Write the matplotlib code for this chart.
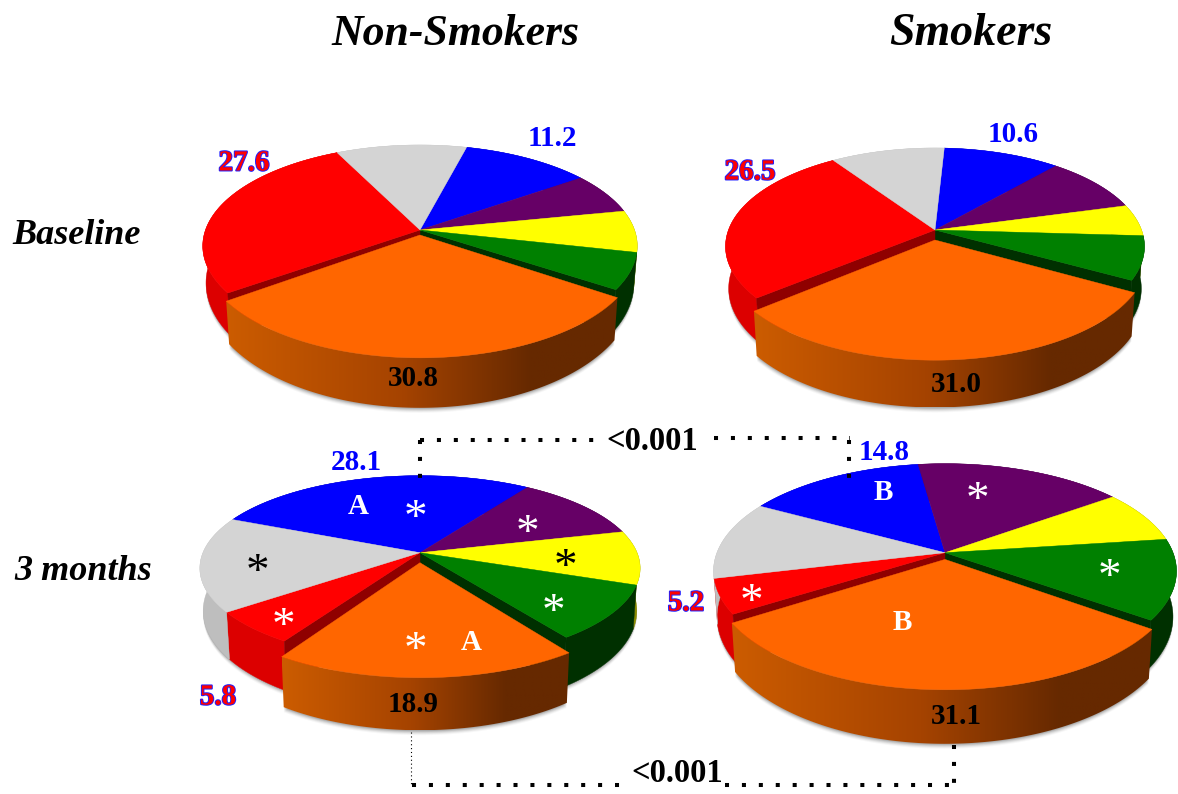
import numpy as np
import matplotlib
matplotlib.use('Agg')
import matplotlib.pyplot as plt
from matplotlib.patches import Polygon
import matplotlib.patheffects as pe
from matplotlib.colors import LinearSegmentedColormap

# Share of each group, one entry per panel:
# non-smokers baseline, smokers baseline, non-smokers 3 months, smokers 3 months
blue = [11.2, 10.6, 28.1, 14.8]
purple = [6.6, 9.3, 11.6, 17.2]
yellow = [6.7, 5.2, 9.4, 7.9]
green = [5.8, 7.1, 9.6, 12.0]
orange = [30.8, 31.0, 18.9, 31.1]
red = [27.6, 26.5, 5.8, 5.2]
grey = [11.3, 10.3, 16.6, 11.8]

col_titles = ['Non-Smokers', 'Smokers']
row_titles = ['Baseline', '3 months']
p_values = ['<0.001', '<0.001']

TOP = {'blue': '#0000ff', 'purple': '#660066', 'yellow': '#ffff00', 'green': '#008000',
       'orange': '#ff6600', 'red': '#ff0000', 'grey': '#d4d4d4'}
WALL = {'blue': '#0000a0', 'purple': '#400040', 'yellow': '#8a8a00', 'green': '#003000',
        'red': '#dc0000', 'grey': '#bebebe'}
FACE = {'green': '#003000', 'red': '#8f0000'}

SERIF = 'Liberation Serif'
ORANGE_WALL = LinearSegmentedColormap.from_list(
    'wall', [(0, '#cc5c00'), (0.45, '#a54300'), (0.78, '#662900'), (1, '#662900')])

# start = angle where the blue slice begins, the rest of the fields set the perspective disc
panels = [
    dict(cx=420, cy=230, r=214.5, back=85, front=117, d0=35, ds=12, start=75.5, da=5, gx=1.008, gy=1.05),
    dict(cx=935, cy=230, r=206.5, back=82, front=115, d0=41, ds=5, start=87.0, da=10, gx=1.015, gy=1.045),
    dict(cx=420, cy=552.7, r=217, back=77, front=108, d0=41, ds=9, start=156.9, da=10, gx=1.02, gy=1.065),
    dict(cx=945, cy=552.7, r=228, back=89, front=126, d0=44, ds=8, start=151.2, da=6.7, gx=1.005, gy=1.035),
]


def rim(g, theta, lower=False, moved=False):
    k = (g['front'] - g['back']) / (g['front'] + g['back'])
    s = g['back'] * (1 + k)
    w = 1 + k * np.sin(theta)
    r = g['r'] * (0.985 if lower else 1)
    ss = s + g['ds'] if lower else s
    dx = r * np.cos(theta) / w
    dy = -ss * np.sin(theta) / w
    if moved:
        dx = dx * g['gx']
        dy = g['da'] + dy * g['gy']
    return g['cx'] + dx, g['cy'] + dy + (g['d0'] if lower else 0)


def arc(a0, a1):
    n = max(int(abs(a1 - a0)), 2) + 1
    return np.radians(np.linspace(a0, a1, n))


def wall_points(g, a0, a1, moved=False):
    th = arc(a0, a1)
    xt, yt = rim(g, th, moved=moved)
    xb, yb = rim(g, th, lower=True, moved=moved)
    return np.r_[np.c_[xt, yt], np.c_[xb, yb][::-1]]


def top_points(g, a0, a1, moved=False):
    xt, yt = rim(g, arc(a0, a1), moved=moved)
    ax0 = g['cx']
    ay0 = g['cy'] + (g['da'] if moved else 0)
    return np.r_[[[ax0, ay0]], np.c_[xt, yt]]


def fill(ax, pts, color, z):
    ax.add_patch(Polygon(pts, closed=True, fc=color, ec=color, lw=0.3, zorder=z))


def soft_shadow(ax, pts, z):
    for off, scale in [(1, 0.12), (2, 0.09), (3, 0.07), (4, 0.05), (5, 0.03)]:
        ax.add_patch(Polygon(pts + [0, off], closed=True, fc='black', ec='none',
                             alpha=scale, zorder=z))


def draw_pie(ax, i, g):
    names = ['blue', 'purple', 'yellow', 'green', 'orange', 'red', 'grey']
    vals = [blue[i], purple[i], yellow[i], green[i], orange[i], red[i], grey[i]]
    # slices run clockwise from the start angle
    edges = g['start'] - np.r_[0, np.cumsum(vals)] * 3.6
    spans = dict(zip(names, zip(edges[:-1], edges[1:])))

    lower = np.c_[rim(g, arc(0, 360), lower=True)]
    soft_shadow(ax, lower, 1)
    o0, o1 = spans['orange']

    for n in names:
        if n == 'orange':
            continue
        a0, a1 = spans[n]
        fill(ax, wall_points(g, a0, a1), WALL[n], 2)

    # the two cut faces left open by the pulled-out slice
    for n, a in (('green', o0), ('red', o1)):
        x1, y1 = rim(g, np.radians(a))
        x2, y2 = rim(g, np.radians(a), lower=True)
        pts = [[g['cx'], g['cy']], [x1, y1], [x2, y2], [g['cx'], g['cy'] + g['d0']]]
        fill(ax, pts, FACE[n], 3)

    for n in names:
        if n == 'orange':
            continue
        a0, a1 = spans[n]
        fill(ax, top_points(g, a0, a1), TOP[n], 4)

    # pulled-out orange slice
    wall = wall_points(g, o0, o1, moved=True)
    soft_shadow(ax, np.r_[np.c_[rim(g, arc(o0, o1), lower=True, moved=True)],
                          [[g['cx'], g['cy'] + g['d0'] + g['da']]]], 5)
    patch = Polygon(wall, closed=True, fc='none', ec='none', zorder=6)
    ax.add_patch(patch)
    grad = np.linspace(0, 1, 256).reshape(1, -1)
    im = ax.imshow(grad, cmap=ORANGE_WALL, aspect='auto', zorder=6,
                   extent=[wall[:, 0].min(), wall[:, 0].max(), wall[:, 1].max(), wall[:, 1].min()])
    im.set_clip_path(patch)
    fill(ax, top_points(g, o0, o1, moved=True), TOP['orange'], 7)


def label(ax, x, y, s, color='black', size=21, outline=None, weight='bold', **kw):
    t = ax.text(x, y + 2, s, color=color, fontsize=size, family=SERIF, weight=weight,
                ha='center', va='center', zorder=10, **kw)
    if outline:
        t.set_path_effects([pe.withStroke(linewidth=1.4, foreground=outline)])
    return t


def dotted(ax, xs, ys, lw=2.9, gap=3.2):
    ax.plot(xs, ys, color='black', lw=lw, linestyle=(0, (1, gap)),
            dash_capstyle='butt', zorder=9)


fig = plt.figure(figsize=(11.78, 7.94), dpi=100)
ax = fig.add_axes([0, 0, 1, 1])

for i, g in enumerate(panels):
    draw_pie(ax, i, g)

ax.set_xlim(0, 1178)
ax.set_ylim(794, 0)
ax.axis('off')

# headings
label(ax, 455, 32, col_titles[0], size=31.5, style='italic')
label(ax, 971, 32, col_titles[1], size=33, style='italic')
label(ax, 77, 233, row_titles[0], size=26, style='italic')
label(ax, 83, 570, row_titles[1], size=26, style='italic')

# value labels
label(ax, 552, 137, f'{blue[0]:.1f}', color='#0000ff')
label(ax, 244, 161, f'{red[0]:.1f}', color='#ff0000', outline='#2020ff')
label(ax, 413, 377, f'{orange[0]:.1f}')
label(ax, 1013, 133, f'{blue[1]:.1f}', color='#0000ff')
label(ax, 750, 170, f'{red[1]:.1f}', color='#ff0000', outline='#2020ff')
label(ax, 956, 383, f'{orange[1]:.1f}')
label(ax, 356, 461, f'{blue[2]:.1f}', color='#0000ff')
label(ax, 218, 695, f'{red[2]:.1f}', color='#ff0000', outline='#2020ff')
label(ax, 413, 702, f'{orange[2]:.1f}')
label(ax, 884, 450, f'{blue[3]:.1f}', color='#0000ff')
label(ax, 686, 601, f'{red[3]:.1f}', color='#ff0000', outline='#2020ff')
label(ax, 956, 715, f'{orange[3]:.1f}')

# significance letters and asterisks
for x, y, s in [(358, 505, 'A'), (471, 640, 'A'), (883, 490, 'B'), (902, 620, 'B')]:
    label(ax, x, y, s, color='white')
for x, y, c in [(415, 510, 'white'), (527, 525, 'white'), (565, 559, 'black'), (553, 604, 'white'),
                (258, 564, 'black'), (284, 618, 'white'), (415, 642, 'white'),
                (977, 492, 'white'), (1109, 569, 'white'), (752, 594, 'white')]:
    label(ax, x, y + 8, '*', color=c, size=34, weight='normal')

# p-value brackets
label(ax, 652, 439, p_values[0], size=23.5)
label(ax, 677, 771, p_values[1], size=23.5)
dotted(ax, [420, 600], [440, 440])
dotted(ax, [714, 850], [438, 438])
dotted(ax, [420, 420], [440, 478])
dotted(ax, [849, 849], [440, 478])
dotted(ax, [412, 630], [785, 785])
dotted(ax, [725, 952], [785, 785])
dotted(ax, [954, 954], [745, 785])
dotted(ax, [410.5, 410.5], [732, 785], lw=0.8, gap=2.5)

fig.savefig('out.png', dpi=100)
